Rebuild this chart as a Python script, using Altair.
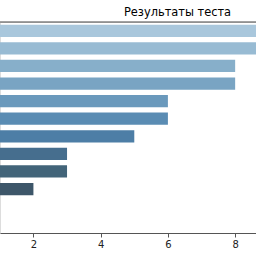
import altair as alt
import pandas as pd

categories = ["Ученик 1", "Ученик 2", "Ученик 3", "Ученик 4", "Ученик 5", "Ученик 6",
              "Ученик 7", "Ученик 8", "Ученик 9", "Ученик 10", "Ученик 11", "Ученик 12"]
scores = [12, 10, 8, 8, 6, 6, 5, 3, 3, 2, 1, 1]
bar_colors = ["#a9c7dc", "#98bbd3", "#87afca", "#79a4c3", "#6a99bc", "#5a8cb3",
              "#4d7ea6", "#466e8e", "#426479", "#3d5669", "#37424a", "#333333"]
x_ticks = [2, 4, 6, 8]
title_text = "Результаты теста"

df = pd.DataFrame({"name": categories, "score": scores})

bars = alt.Chart(df).mark_bar(clip=True).encode(
    x=alt.X("score:Q",
            scale=alt.Scale(domain=[1.006, 8.62], nice=False, zero=False),
            axis=alt.Axis(values=x_ticks, title=None, grid=False,
                          domainColor="#555555", domainWidth=1,
                          tickColor="#555555", tickSize=4, tickWidth=1,
                          labelFont="DejaVu Sans", labelFontSize=10,
                          labelColor="#222222", labelPadding=2,
                          labelFlush=False)),
    y=alt.Y("name:N", sort=categories,
            scale=alt.Scale(paddingInner=0.3, paddingOuter=0.15),
            axis=None),
    color=alt.Color("name:N", scale=alt.Scale(domain=categories, range=bar_colors),
                    legend=None),
)

spine = alt.Chart(pd.DataFrame({"a": [0]})).mark_rule(color="#444444", strokeWidth=1).encode(
    x=alt.value(0), x2=alt.value(256), y=alt.value(0)
)

chart = alt.layer(bars, spine).properties(
    width=256, height=211,
    title=alt.TitleParams(title_text, anchor="middle", dx=49.5, fontSize=11.4,
                          font="DejaVu Sans", fontWeight="normal", color="black",
                          offset=3),
    autosize=alt.AutoSizeParams(type="none"),
    padding={"left": 0, "right": 0, "top": 22, "bottom": 23},
).configure_view(stroke=None).configure(background="white")

chart.save("out.html", embed_options={"renderer": "svg", "actions": False})
